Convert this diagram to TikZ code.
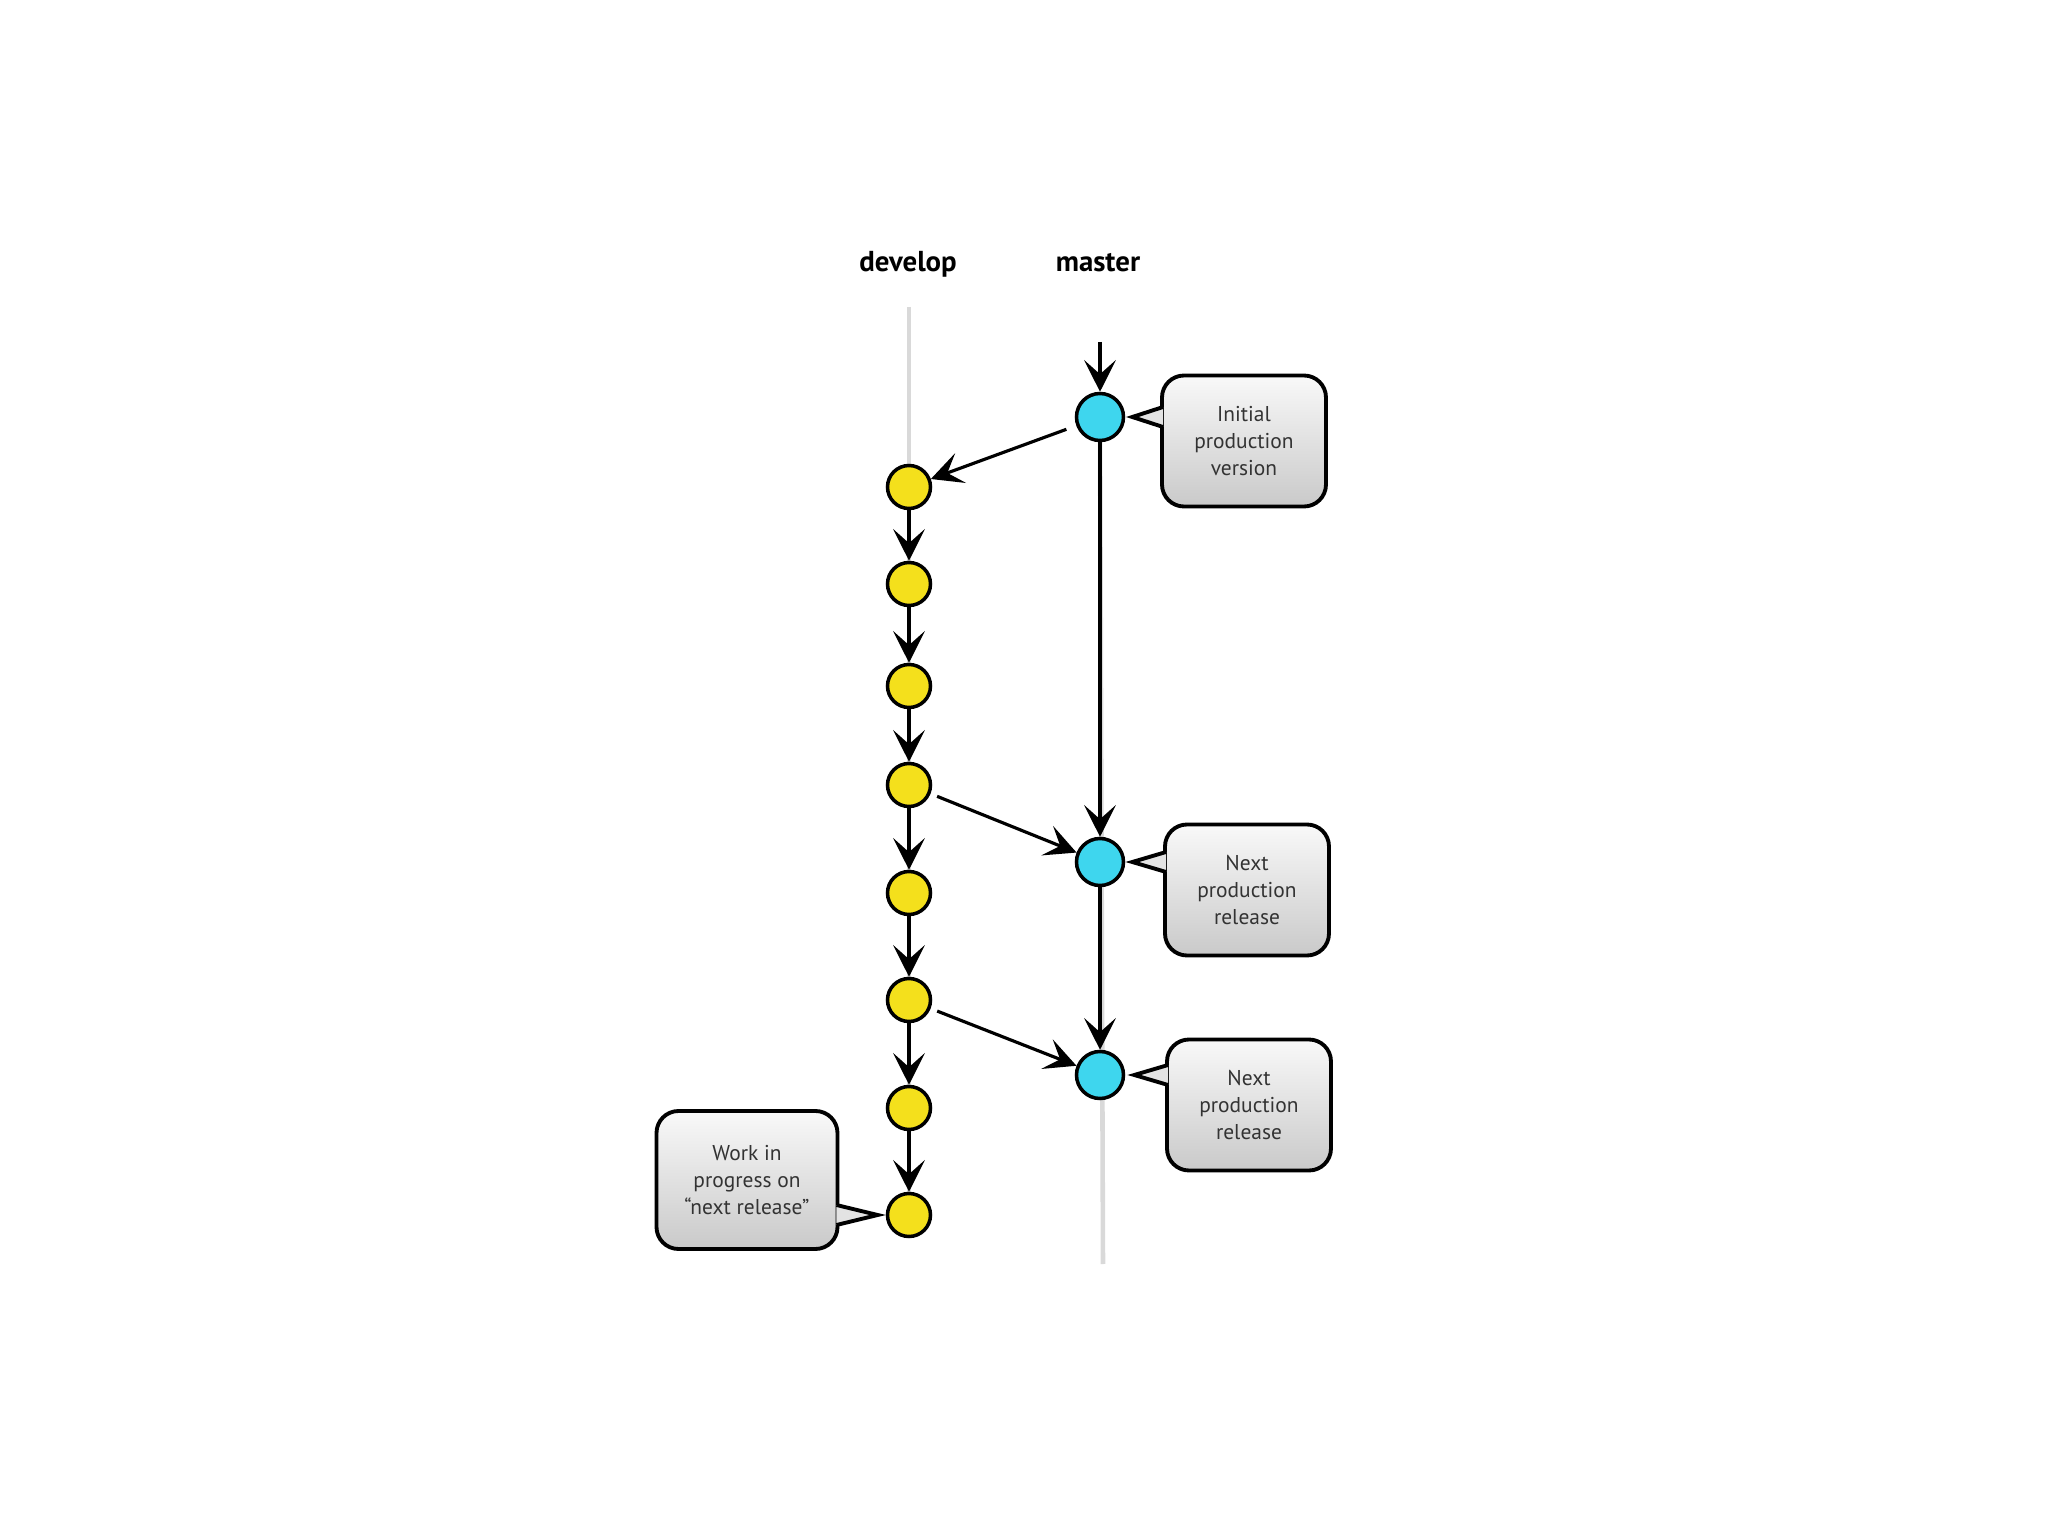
\documentclass[tikz,border=0pt]{standalone}
\usepackage{fontspec}
\setmainfont{PT Sans}
\usetikzlibrary{arrows.meta,backgrounds,calc}

\definecolor{devyellow}{HTML}{F4E01C}
\definecolor{relblue}{HTML}{3ED6EE}

\begin{document}
\begin{tikzpicture}[
    commit/.style={circle, draw, line width=1pt, inner sep=0pt},
    devcommit/.style={commit, fill=devyellow, minimum size=0.43cm},
    relcommit/.style={commit, fill=relblue, minimum size=0.47cm},
    branch/.style={anchor=base, font=\bfseries\fontsize{8.2}{9}\selectfont},
    note/.style={rectangle, rounded corners=0.22cm, draw, line width=1.1pt, top color=gray!5, bottom color=gray!42, minimum width=1.64cm, minimum height=1.31cm, align=center, font=\fontsize{6.1}{7.8}\selectfont, text=black!80},
    tail/.style={fill=gray!22, draw, line width=1.1pt, line join=miter},
    arrow/.style={-{Stealth[length=9pt,width=9pt,inset=4pt]}, line width=0.9pt},
    lane/.style={draw=gray!30, line width=1.3pt}
]
    \useasboundingbox (0,0) rectangle (20.48,-15.36);

    % branch names
    \node[branch] (devlabel) at (9.08,-2.72) {develop};
    \node[branch] (masterlabel) at (10.98,-2.72) {master};

    % commits on develop
    \node[devcommit] (dev1) at (9.09,-4.87) {};
    \node[devcommit] (dev2) at (9.09,-5.84) {};
    \node[devcommit] (dev3) at (9.09,-6.86) {};
    \node[devcommit] (dev4) at (9.09,-7.85) {};
    \node[devcommit] (dev5) at (9.09,-8.93) {};
    \node[devcommit] (dev6) at (9.09,-10.00) {};
    \node[devcommit] (dev7) at (9.09,-11.08) {};
    \node[devcommit] (dev8) at (9.09,-12.15) {};

    % commits on master
    \node[relcommit] (rel1) at (11.00,-4.17) {};
    \node[relcommit] (rel2) at (11.00,-8.62) {};
    \node[relcommit] (rel3) at (11.00,-10.75) {};

    \coordinate (devtop) at (9.09,-3.07);
    \coordinate (mastertop) at (11.00,-3.42);
    \coordinate (masterbot) at (11.03,-12.64);

    % callouts
    \node[note] (note1) at (12.44,-4.41) {Initial\\production\\version};
    \node[note] (note2) at (12.47,-8.90) {Next\\production\\release};
    \node[note] (note3) at (12.49,-11.05) {Next\\production\\release};
    \node[note, minimum width=1.81cm, minimum height=1.38cm] (note4) at (7.47,-11.80) {Work in\\progress on\\``next release''};

    \path[tail] ($(note1.west |- rel1)+(0.03,0.1)$) -- ($(rel1.east)+(0.07,0)$) -- ($(note1.west |- rel1)+(0.03,-0.1)$);
    \path[tail] ($(note2.west |- rel2)+(0.03,0.1)$) -- ($(rel2.east)+(0.07,0)$) -- ($(note2.west |- rel2)+(0.03,-0.1)$);
    \path[tail] ($(note3.west |- rel3)+(0.03,0.1)$) -- ($(rel3.east)+(0.09,0)$) -- ($(note3.west |- rel3)+(0.03,-0.1)$);
    \path[tail] ($(note4.east |- dev8)+(-0.03,0.1)$) -- ($(dev8.west)+(-0.08,0)$) -- ($(note4.east |- dev8)+(-0.03,-0.1)$);

    % lanes
    \begin{scope}[on background layer]
        \draw[lane] (devtop) -- (dev8);
        \draw[lane] (rel1) -- (masterbot);
    \end{scope}

    % history
    \draw[arrow] (mastertop) -- (rel1);
    \draw[arrow, shorten <=3pt] (rel1) -- (dev1);
    \draw[arrow] (dev1) -- (dev2);
    \draw[arrow] (dev2) -- (dev3);
    \draw[arrow] (dev3) -- (dev4);
    \draw[arrow] (dev4) -- (dev5);
    \draw[arrow] (dev5) -- (dev6);
    \draw[arrow] (dev6) -- (dev7);
    \draw[arrow] (dev7) -- (dev8);
    \draw[arrow] (rel1) -- (rel2);
    \draw[arrow, shorten <=2pt] (dev4) -- (rel2);
    \draw[arrow] (rel2) -- (rel3);
    \draw[arrow, shorten <=2pt] (dev6) -- (rel3);
\end{tikzpicture}
\end{document}
